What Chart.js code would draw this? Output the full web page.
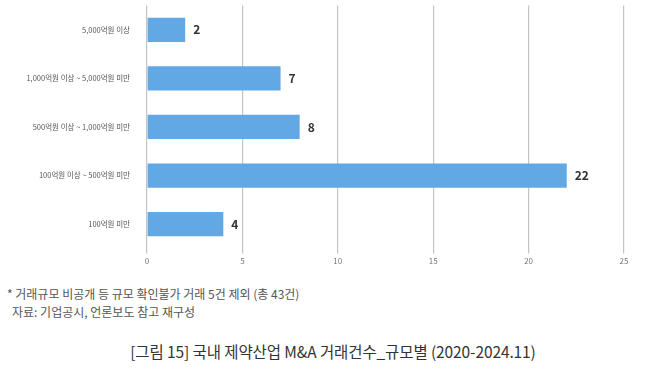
<!DOCTYPE html>
<html>
<head>
<meta charset="utf-8">
<script src="https://cdn.jsdelivr.net/npm/chart.js@4/dist/chart.umd.min.js"></script>
<style>
  html, body { margin: 0; padding: 0; background: #fff; }
  body { width: 650px; height: 370px; position: relative; overflow: hidden; font-family: "Noto Sans CJK KR", "Noto Sans", sans-serif; }
  #wrap { position: absolute; left: 0; top: -8.5px; width: 650px; height: 277px; }
  .note { position: absolute; left: 7px; font-size: 12px; color: #555; white-space: nowrap; }
  #n1 { top: 285px; }
  #n2 { top: 303px; left: 12px; }
  #title { position: absolute; left: 8px; width: 650px; top: 340px; text-align: center; font-size: 15.5px; color: #333; letter-spacing: -0.1px; white-space: nowrap; }
</style>
</head>
<body>
<div id="wrap"><canvas id="c"></canvas></div>
<div class="note" id="n1">* 거래규모 비공개 등 규모 확인불가 거래 5건 제외 (총 43건)</div>
<div class="note" id="n2">자료: 기업공시, 언론보도 참고 재구성</div>
<div id="title">[그림 15] 국내 제약산업 M&amp;A 거래건수_규모별 (2020-2024.11)</div>
<script>
const categories = ["5,000억원 이상", "1,000억원 이상 ~ 5,000억원 미만", "500억원 이상 ~ 1,000억원 미만", "100억원 이상 ~ 500억원 미만", "100억원 미만"];
const dealCounts = [2, 7, 8, 22, 4];
const xTicks = [0, 5, 10, 15, 20, 25];

const valueLabels = {
  id: 'valueLabels',
  afterDatasetsDraw(chart) {
    const ctx = chart.ctx;
    const meta = chart.getDatasetMeta(0);
    ctx.save();
    ctx.font = 'bold 12px "Noto Sans CJK KR", sans-serif';
    ctx.fillStyle = '#333';
    ctx.textAlign = 'left';
    ctx.textBaseline = 'middle';
    meta.data.forEach((bar, i) => {
      ctx.fillText(String(dealCounts[i]), bar.x + 8, bar.y);
    });
    ctx.restore();
  }
};

new Chart(document.getElementById('c'), {
  type: 'bar',
  data: {
    labels: categories,
    datasets: [{
      data: dealCounts,
      backgroundColor: '#62a8e4',
      borderWidth: 0,
      barPercentage: 0.5,
      categoryPercentage: 1
    }]
  },
  options: {
    indexAxis: 'y',
    responsive: true,
    maintainAspectRatio: false,
    animation: false,
    layout: { padding: { top: 0, right: 26, left: 0, bottom: 0 } },
    plugins: { legend: { display: false }, tooltip: { enabled: false } },
    scales: {
      x: {
        min: 0, max: 25,
        afterBuildTicks(scale) { scale.ticks = xTicks.map(v => ({ value: v })); },
        grid: { color: '#c4c4c4', lineWidth: 1.2, drawTicks: true, tickLength: 5, tickColor: '#c4c4c4' },
        border: { display: false },
        ticks: { color: '#777', font: { size: 8, family: '"Noto Sans CJK KR", sans-serif' }, padding: 3 }
      },
      y: {
        grid: { display: false },
        border: { display: false },
        afterFit(scale) { scale.width = 147; },
        ticks: { color: '#555', font: { size: 7.5, family: '"Noto Sans CJK KR", sans-serif' }, padding: 9 }
      }
    }
  },
  plugins: [valueLabels]
});
</script>
</body>
</html>
